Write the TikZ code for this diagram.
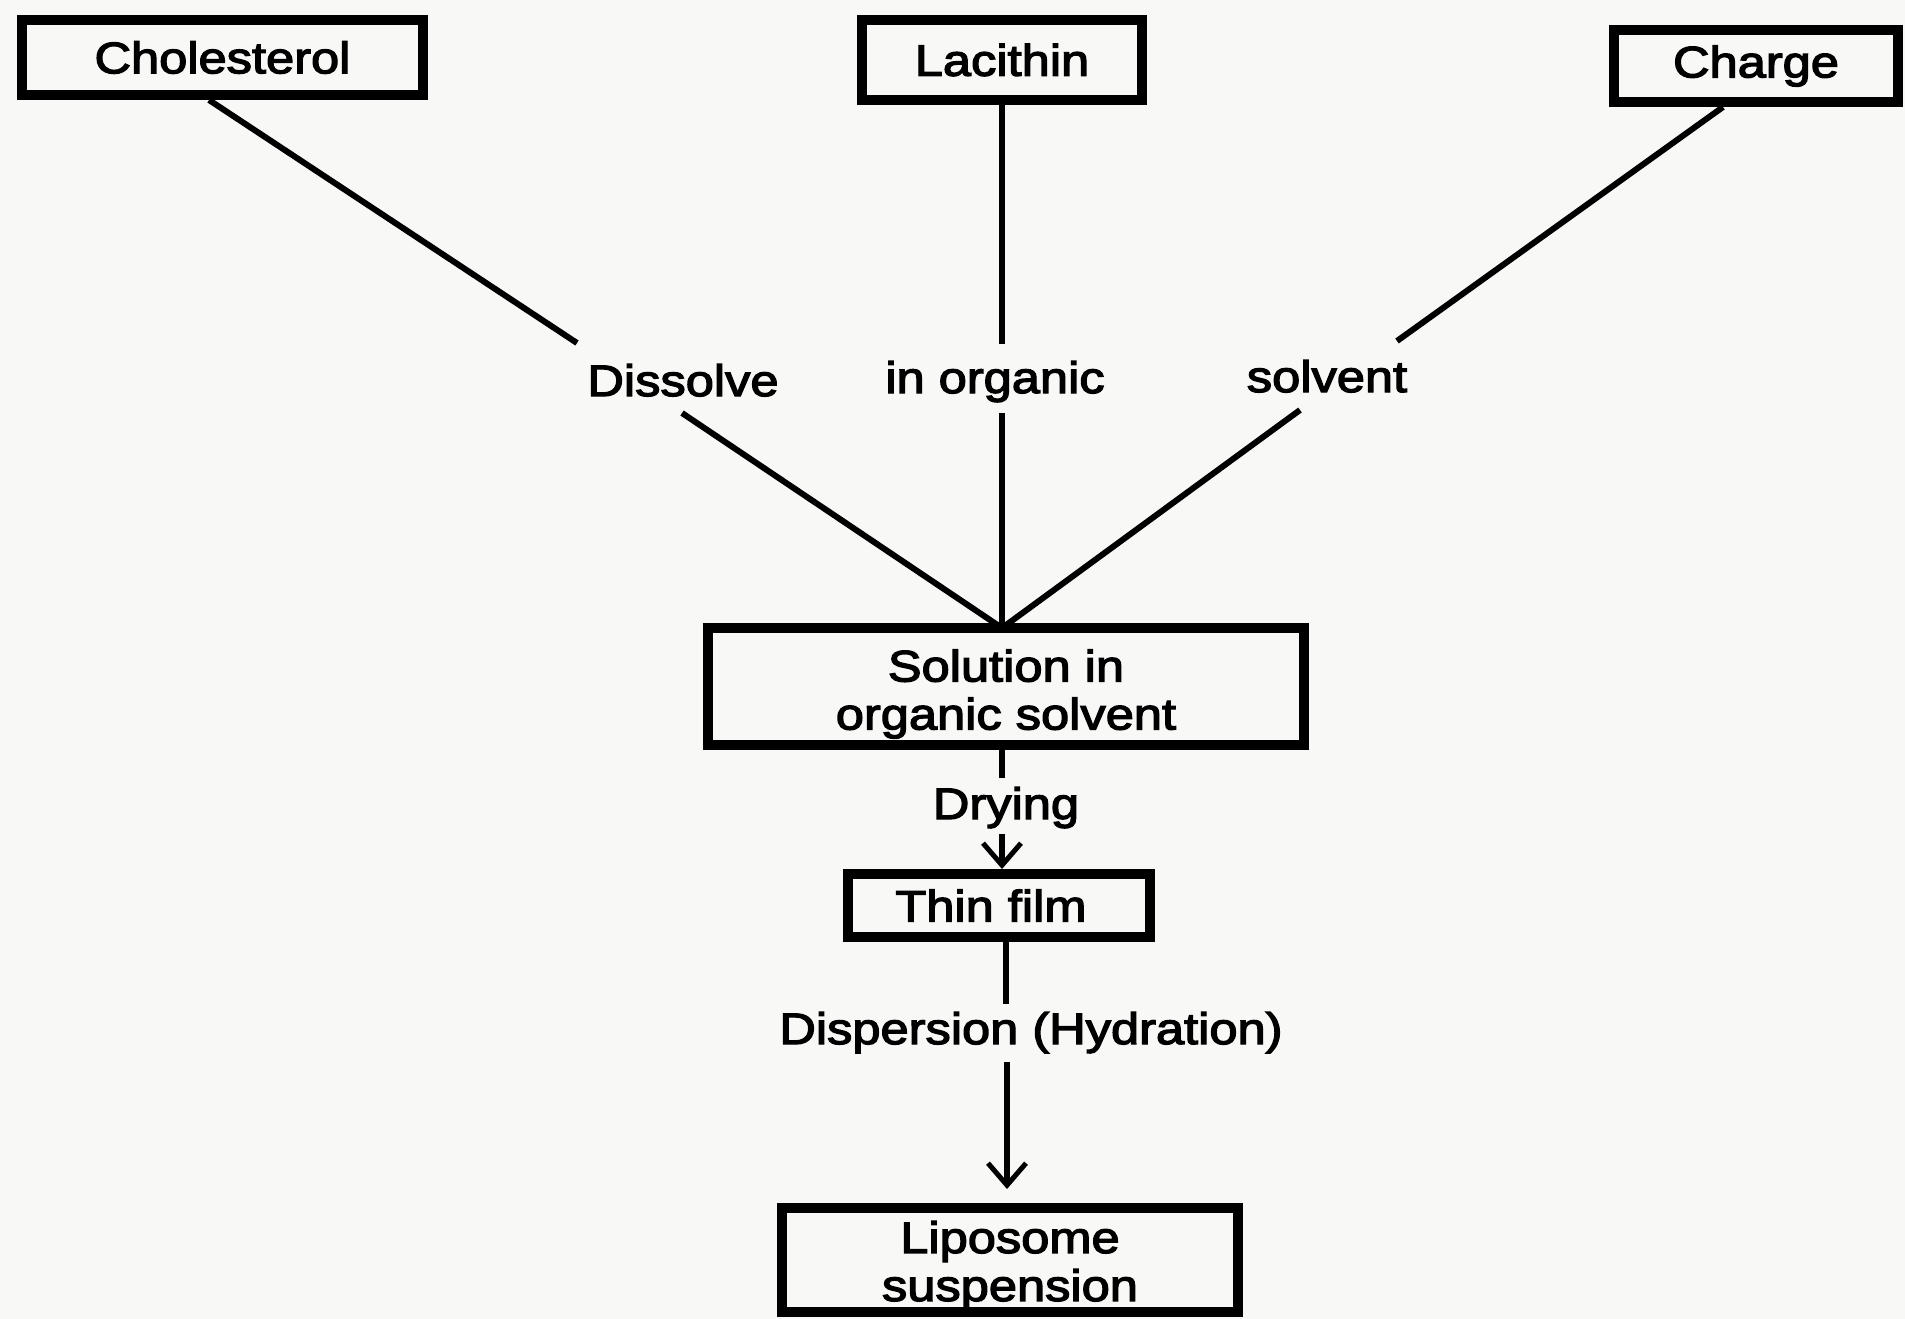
\documentclass[tikz,border=0pt]{standalone}
\usepackage{fontspec}
\setmainfont{Liberation Sans}[FakeStretch=1.15,FakeBold=3]
\usetikzlibrary{arrows.meta,calc}
\definecolor{bg}{RGB}{248,248,246}
\newcommand\dgfont{\fontsize{44}{48}\selectfont}
\begin{document}
\begin{tikzpicture}[x=1pt,y=-1pt,
  box/.style={draw, line width=10pt, inner sep=0pt, align=center, font=\dgfont},
  lbl/.style={inner sep=0pt, anchor=base, font=\dgfont},
  conn/.style={line width=6pt},
  arr/.style={line width=6pt, -{Straight Barb[length=22pt,width=38pt,line width=5pt]}}]
\fill[bg] (0,0) rectangle (1905,1319);
\useasboundingbox (0,0) rectangle (1905,1319);

% boxes
\node[box, minimum width=401pt, minimum height=75pt] (chol) at (222.5,57.5) {Cholesterol};
\node[box, minimum width=280pt, minimum height=80pt] (lac) at (1002,60) {Lacithin};
\node[box, minimum width=284pt, minimum height=72pt] (charge) at (1756,66) {Charge};
\node[box, minimum width=596pt, minimum height=117pt] (sol) at (1006,686.5) {\rule{0pt}{47pt}Solution in\\organic solvent};
\node[box, minimum width=302pt, minimum height=63pt] (thin) at (999,905.5) {Thin film\hspace*{16pt}};
\node[box, minimum width=456pt, minimum height=104pt] (lipo) at (1010,1260) {\rule{0pt}{43pt}Liposome\\suspension};

% labels
\node[lbl] (dis) at (683,396) {Dissolve};
\node[lbl] (inorg) at (995,393) {in organic};
\node[lbl] (solv) at (1327,392) {solvent};
\node[lbl] (dry) at (1006,819) {Drying};
\node[lbl] (disp) at (1031,1044) {Dispersion (Hydration)};

% coordinates
\coordinate (apex) at (1002,628);
\coordinate (g1a) at (577,343);
\coordinate (g1b) at (682,413);
\coordinate (g2a) at (1002,344);
\coordinate (g2b) at (1002,413);
\coordinate (g3a) at (1397,341);
\coordinate (g3b) at (1300,410);
\coordinate (d1) at (1002,778);
\coordinate (d2) at (1002,834);
\coordinate (e1) at (1006,1004);
\coordinate (e2) at (1007,1062);

% connectors
\draw[conn] ($(chol.south)+(-13.5,0)$) -- (g1a);
\draw[conn] (g1b) -- (apex);
\draw[conn] (lac.south) -- (g2a);
\draw[conn] (g2b) -- (apex);
\draw[conn] ($(charge.south)+(-33,0)$) -- (g3a);
\draw[conn] (g3b) -- (apex);

\draw[conn] (sol.south -| d1) -- (d1);
\draw[arr] (d2) -- (thin.north -| d2);
\draw[conn] (thin.south -| e1) -- (e1);
\draw[arr, shorten >=14pt] (e2) -- (lipo.north -| e2);
\end{tikzpicture}
\end{document}
